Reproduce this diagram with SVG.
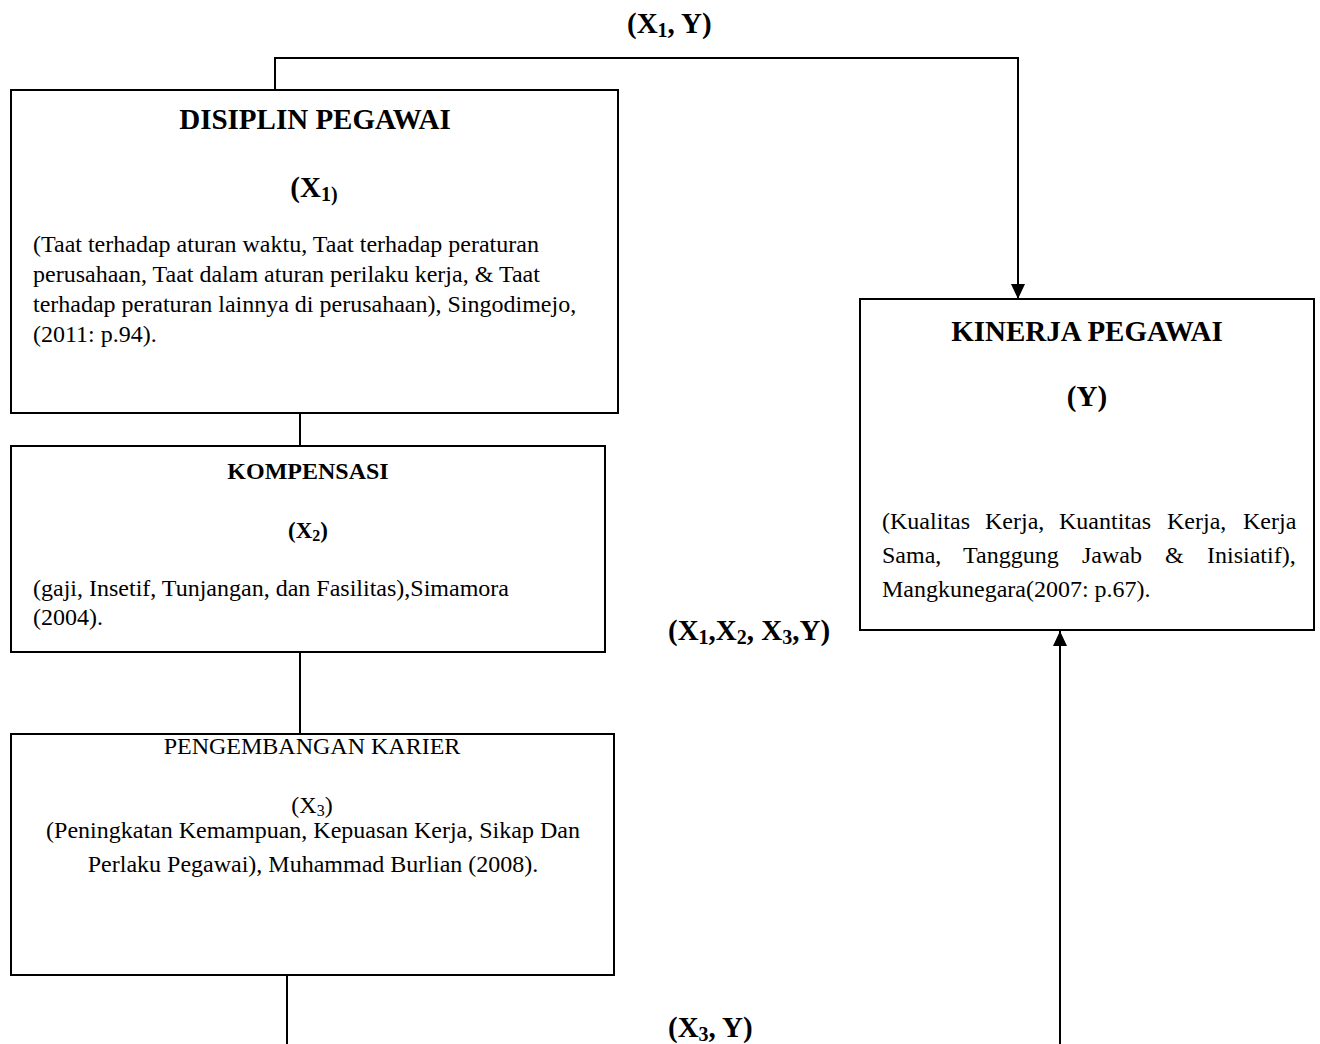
<svg xmlns="http://www.w3.org/2000/svg" width="1320" height="1044" viewBox="0 0 1320 1044">
<defs>
<style>
text{font-family:"Liberation Serif","Times New Roman",serif;fill:#000}
.box{fill:#fff;stroke:#000;stroke-width:2}
.ln{fill:none;stroke:#000;stroke-width:2}
.t{font-weight:bold;font-size:29px;text-anchor:middle}
.t2{font-weight:bold;text-anchor:middle}
.b{font-size:24px}
.c{text-anchor:middle}
.lab{font-weight:bold;font-size:29px}
</style>
<marker id="ah" viewBox="0 0 15 14" refX="15" refY="7" markerWidth="15" markerHeight="14" markerUnits="userSpaceOnUse" orient="auto">
<path d="M0,0 L15,7 L0,14 Z" fill="#000"/>
</marker>
</defs>
<rect width="1320" height="1044" fill="#fff"/>
<g id="connectors">
<polyline class="ln" points="275,90 275,58 1018,58 1018,290"/>
<line class="ln" x1="1018" y1="280" x2="1018" y2="299" marker-end="url(#ah)"/>
<line class="ln" x1="300" y1="413" x2="300" y2="446"/>
<line class="ln" x1="300" y1="652" x2="300" y2="734"/>
<line class="ln" x1="287" y1="975" x2="287" y2="1044"/>
<line class="ln" x1="1060" y1="1044" x2="1060" y2="631" marker-end="url(#ah)"/>
<text class="lab" x="627" y="33">(X<tspan font-size="20" dy="4">1</tspan><tspan dy="-4">, Y)</tspan></text>
<text class="lab" x="668" y="640">(X<tspan font-size="20" dy="4">1</tspan><tspan dy="-4">,X</tspan><tspan font-size="20" dy="4">2</tspan><tspan dy="-4">, X</tspan><tspan font-size="20" dy="4">3</tspan><tspan dy="-4">,Y)</tspan></text>
<text class="lab" x="668" y="1037">(X<tspan font-size="20" dy="4">3</tspan><tspan dy="-4">, Y)</tspan></text>
</g>
<g id="disiplin">
<rect class="box" x="11" y="90" width="607" height="323"/>
<text class="t" x="315" y="129">DISIPLIN PEGAWAI</text>
<text class="t" x="314" y="197">(X<tspan font-size="20" dy="4">1)</tspan></text>
<text class="b" x="33" y="252">(Taat terhadap aturan waktu, Taat terhadap peraturan</text>
<text class="b" x="33" y="282">perusahaan, Taat dalam aturan perilaku kerja, &amp; Taat</text>
<text class="b" x="33" y="312">terhadap peraturan lainnya di perusahaan), Singodimejo,</text>
<text class="b" x="33" y="342">(2011: p.94).</text>
</g>
<g id="kompensasi">
<rect class="box" x="11" y="446" width="594" height="206"/>
<text class="t2" x="308" y="479" style="font-size:24px">KOMPENSASI</text>
<text class="t2" x="308" y="538" style="font-size:23px">(X<tspan font-size="16" dy="3">2</tspan><tspan dy="-3">)</tspan></text>
<text class="b" x="33" y="596">(gaji, Insetif, Tunjangan, dan Fasilitas),Simamora</text>
<text class="b" x="33" y="625">(2004).</text>
</g>
<g id="pengembangan">
<rect class="box" x="11" y="734" width="603" height="241"/>
<text class="b c" x="312" y="754">PENGEMBANGAN KARIER</text>
<text class="b c" x="312" y="813">(X<tspan font-size="16" dy="3">3</tspan><tspan dy="-3">)</tspan></text>
<text class="b c" x="313" y="838">(Peningkatan Kemampuan, Kepuasan Kerja, Sikap Dan</text>
<text class="b c" x="313" y="872">Perlaku Pegawai), Muhammad Burlian (2008).</text>
</g>
<g id="kinerja">
<rect class="box" x="860" y="299" width="454" height="331"/>
<text class="t" x="1087" y="341">KINERJA PEGAWAI</text>
<text class="t" x="1087" y="406">(Y)</text>
<text class="b" y="529"><tspan x="882">(Kualitas</tspan><tspan x="985">Kerja,</tspan><tspan x="1059">Kuantitas</tspan><tspan x="1167">Kerja,</tspan><tspan x="1243">Kerja</tspan></text>
<text class="b" y="563"><tspan x="882">Sama,</tspan><tspan x="963">Tanggung</tspan><tspan x="1082">Jawab</tspan><tspan x="1165">&amp;</tspan><tspan x="1207">Inisiatif),</tspan></text>
<text class="b" x="882" y="597">Mangkunegara(2007: p.67).</text>
</g>
</svg>
